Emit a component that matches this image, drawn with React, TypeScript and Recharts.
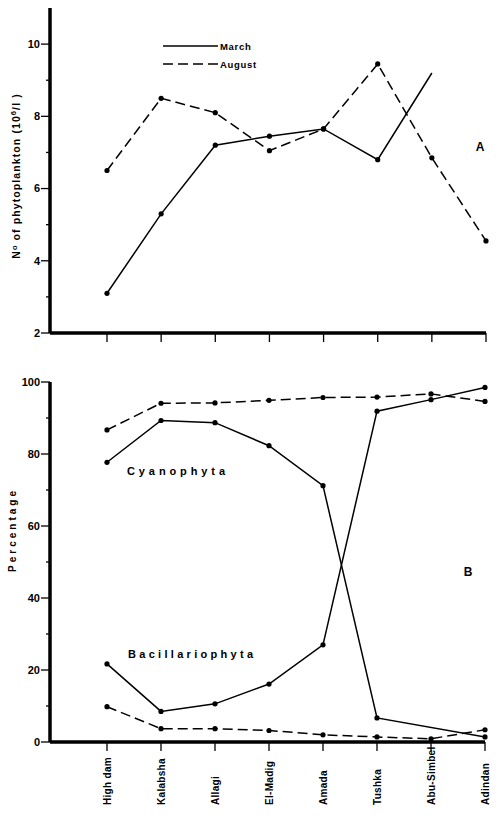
import React from 'react';
import { LineChart, Line, XAxis, YAxis, Legend } from 'recharts';

const stations = ['High dam', 'Kalabsha', 'Allagi', 'El-Madig', 'Amada', 'Tushka', 'Abu-Simbel', 'Adindan'];

// panel A: phytoplankton counts (10^6 / l)
const marchCount = [3.1, 5.3, 7.2, 7.45, 7.65, 6.8, 9.2, null];
const augustCount = [6.5, 8.5, 8.1, 7.05, 7.65, 9.45, 6.85, 4.55];
const countTicks = [2, 3, 4, 5, 6, 7, 8, 9, 10];

// panel B: percentage of groups
const cyanoMarch = [77.7, 89.3, 88.7, 82.3, 71.2, 6.7, null, 1.4];
const bacilMarch = [21.7, 8.5, 10.6, 16.1, 27.0, 91.9, 95.1, 98.5];
const cyanoAugust = [86.7, 94.1, 94.2, 94.9, 95.7, 95.8, 96.7, 94.6];
const bacilAugust = [9.8, 3.7, 3.7, 3.2, 2.0, 1.4, 0.9, 3.4];
const pctTicks = [0, 10, 20, 30, 40, 50, 60, 70, 80, 90, 100];

const countData = stations.map((name, i) => ({ name, march: marchCount[i], august: augustCount[i] }));
const pctData = stations.map((name, i) => ({
  name,
  cyanoMarch: cyanoMarch[i],
  bacilMarch: bacilMarch[i],
  cyanoAugust: cyanoAugust[i],
  bacilAugust: bacilAugust[i],
}));

const FONT = '"Liberation Sans", Arial, sans-serif';
const DASH = '10 5';

const makeYTick = (majorStep: number) => (props: any) => {
  const { x, y, payload } = props;
  const major = payload.value % majorStep === 0;
  const len = major ? 9 : 4;
  return (
    <g>
      <line x1={x - len} y1={y} x2={x} y2={y} stroke="#000" strokeWidth={1.3} />
      {major && (
        <text x={x - len - 1} y={y} dy="0.35em" textAnchor="end" fontSize={11} fontWeight="bold" fontFamily={FONT} fill="#000">
          {payload.value}
        </text>
      )}
    </g>
  );
};

const XTickMark = (props: any) => {
  const { x, y } = props;
  return <line x1={x} y1={y} x2={x} y2={y + 9} stroke="#000" strokeWidth={1.3} />;
};

const XTickLabel = (props: any) => {
  const { x, y, payload } = props;
  const by = y + 63;
  return (
    <g>
      <line x1={x} y1={y} x2={x} y2={y + 9} stroke="#000" strokeWidth={1.3} />
      <text x={x} y={by} dy="0.35em" transform={`rotate(-90, ${x}, ${by})`} textAnchor="start" fontSize={10} fontWeight="bold" fontFamily={FONT} fill="#000" letterSpacing={0.3}>
        {payload.value}
      </text>
    </g>
  );
};

const makeDot = (skip: string[] = []) => (props: any) => {
  const { cx, cy, payload, index } = props;
  if (cy == null || skip.includes(payload.name)) return <g key={index} />;
  return <circle key={index} cx={cx} cy={cy} r={2.6} fill="#000" />;
};

const LegendBox = () => (
  <svg width={110} height={34}>
    <line x1={0} y1={8} x2={55} y2={8} stroke="#000" strokeWidth={1.5} />
    <text x={57} y={12} fontSize={9.5} fontWeight="bold" fontFamily={FONT} letterSpacing={0.7}>March</text>
    <line x1={0} y1={26} x2={55} y2={26} stroke="#000" strokeWidth={1.5} strokeDasharray={DASH} />
    <text x={57} y={30} fontSize={9.5} fontWeight="bold" fontFamily={FONT} letterSpacing={0.7}>August</text>
  </svg>
);

const axisLine = { stroke: '#000', strokeWidth: 3.5 };

export default function App() {
  return (
    <div style={{ position: 'absolute', left: 0, top: 0, width: 500, height: 819, background: '#fff' }}>
      <div style={{ position: 'absolute', left: 0, top: 0 }}>
        <LineChart width={500} height={350} data={countData} margin={{ top: 8, right: 14, bottom: 0, left: 0 }}>
          <XAxis dataKey="name" height={17} padding={{ left: 57, right: 0 }} axisLine={axisLine} tickLine={false} tickSize={0} tickMargin={0} tick={<XTickMark />} interval={0} />
          <YAxis width={50} domain={[2, 11]} ticks={countTicks} type="number" axisLine={axisLine} tickLine={false} tickSize={0} tickMargin={0} tick={makeYTick(2)} interval={0} />
          <Legend layout="vertical" align="center" verticalAlign="middle" wrapperStyle={{ left: 163, top: 38, width: 110, height: 34 }} content={<LegendBox />} />
          <Line dataKey="march" stroke="#000" strokeWidth={1.5} dot={makeDot(['Abu-Simbel'])} isAnimationActive={false} />
          <Line dataKey="august" stroke="#000" strokeWidth={1.5} strokeDasharray={DASH} dot={makeDot()} isAnimationActive={false} />
        </LineChart>
      </div>
      <div style={{ position: 'absolute', left: 0, top: 350 }}>
        <LineChart width={500} height={469} data={pctData} margin={{ top: 32, right: 15, bottom: 0, left: 0 }}>
          <XAxis dataKey="name" height={77} padding={{ left: 57, right: 0 }} axisLine={axisLine} tickLine={false} tickSize={0} tickMargin={0} tick={<XTickLabel />} interval={0} />
          <YAxis width={50} domain={[0, 100]} ticks={pctTicks} type="number" axisLine={axisLine} tickLine={false} tickSize={0} tickMargin={0} tick={makeYTick(20)} interval={0} />
          <Line dataKey="cyanoAugust" stroke="#000" strokeWidth={1.5} strokeDasharray={DASH} dot={makeDot()} isAnimationActive={false} />
          <Line dataKey="cyanoMarch" stroke="#000" strokeWidth={1.5} connectNulls dot={makeDot()} isAnimationActive={false} />
          <Line dataKey="bacilMarch" stroke="#000" strokeWidth={1.5} dot={makeDot()} isAnimationActive={false} />
          <Line dataKey="bacilAugust" stroke="#000" strokeWidth={1.5} strokeDasharray={DASH} dot={makeDot()} isAnimationActive={false} />
        </LineChart>
      </div>
      <svg width={500} height={819} style={{ position: 'absolute', left: 0, top: 0, pointerEvents: 'none' }} fontFamily={FONT} fontWeight="bold" fill="#000">
        <text transform="translate(20, 176) rotate(-90)" textAnchor="middle" fontSize={10.5} letterSpacing={1.1}>
          N<tspan dy={-3} fontSize={7.5}>o</tspan>
          <tspan dy={3}> of phytoplankton  (10</tspan>
          <tspan dy={-4} fontSize={7.5}>6</tspan>
          <tspan dy={4}>/l )</tspan>
        </text>
        <text transform="translate(16, 530) rotate(-90)" textAnchor="middle" fontSize={10} letterSpacing={3}>Percentage</text>
        <text x={480} y={151} fontSize={12} textAnchor="middle">A</text>
        <text x={468} y={576} fontSize={12} textAnchor="middle">B</text>
        <text x={127} y={475} fontSize={11} letterSpacing={3.9}>Cyanophyta</text>
        <text x={128} y={658} fontSize={11} letterSpacing={3.3}>Bacillariophyta</text>
      </svg>
    </div>
  );
}
